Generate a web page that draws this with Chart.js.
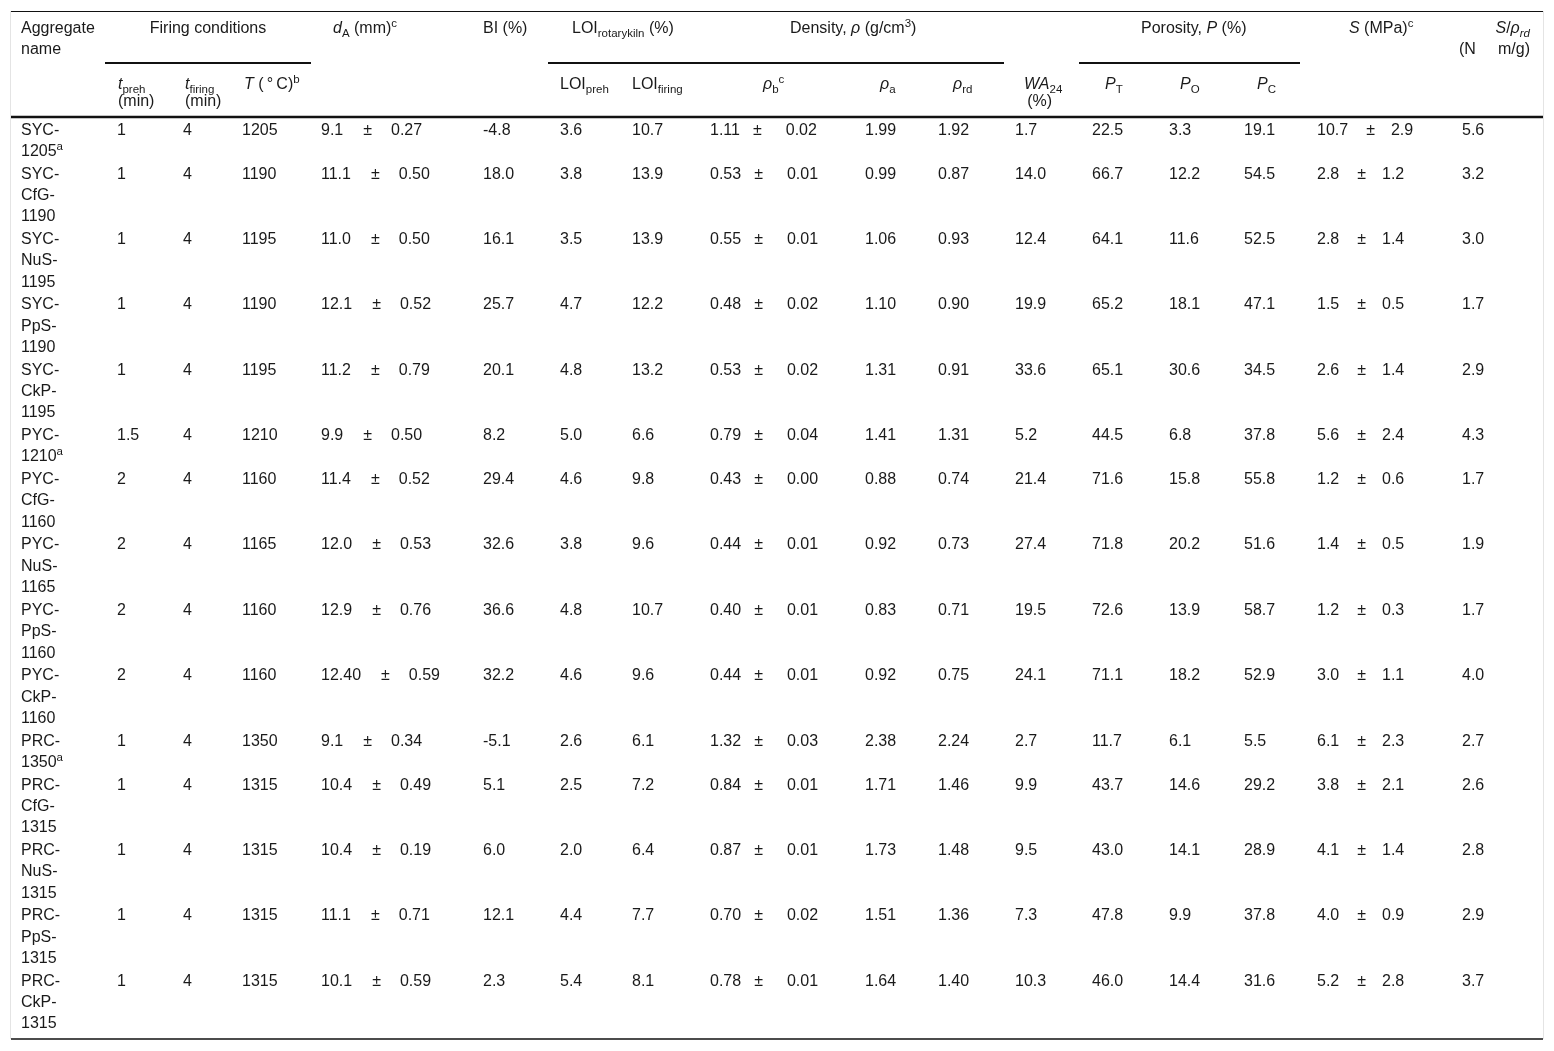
<!DOCTYPE html>
<html>
<head>
<meta charset="utf-8">
<script src="https://cdn.jsdelivr.net/npm/chart.js@4/dist/chart.umd.min.js"></script>
<style>
  html, body { margin: 0; padding: 0; background: #fff; }
  canvas { display: block; }
</style>
</head>
<body>
<canvas id="myChart" width="1554" height="1051"></canvas>
<script>
// table values
const names = ["SYC-1205","SYC-CfG-1190","SYC-NuS-1195","SYC-PpS-1190","SYC-CkP-1195",
  "PYC-1210","PYC-CfG-1160","PYC-NuS-1165","PYC-PpS-1160","PYC-CkP-1160",
  "PRC-1350","PRC-CfG-1315","PRC-NuS-1315","PRC-PpS-1315","PRC-CkP-1315"]
const nameNotes = ["a","","","","","a","","","","","a","","","",""]
const tPreh = ["1","1","1","1","1","1.5","2","2","2","2","1","1","1","1","1"]
const tFiring = ["4","4","4","4","4","4","4","4","4","4","4","4","4","4","4"]
const temp = ["1205","1190","1195","1190","1195","1210","1160","1165","1160","1160","1350","1315","1315","1315","1315"]
const dA = ["9.1","11.1","11.0","12.1","11.2","9.9","11.4","12.0","12.9","12.40","9.1","10.4","10.4","11.1","10.1"]
const dASd = ["0.27","0.50","0.50","0.52","0.79","0.50","0.52","0.53","0.76","0.59","0.34","0.49","0.19","0.71","0.59"]
const bi = ["-4.8","18.0","16.1","25.7","20.1","8.2","29.4","32.6","36.6","32.2","-5.1","5.1","6.0","12.1","2.3"]
const loiPreh = ["3.6","3.8","3.5","4.7","4.8","5.0","4.6","3.8","4.8","4.6","2.6","2.5","2.0","4.4","5.4"]
const loiFiring = ["10.7","13.9","13.9","12.2","13.2","6.6","9.8","9.6","10.7","9.6","6.1","7.2","6.4","7.7","8.1"]
const rhoB = ["1.11","0.53","0.55","0.48","0.53","0.79","0.43","0.44","0.40","0.44","1.32","0.84","0.87","0.70","0.78"]
const rhoBSd = ["0.02","0.01","0.01","0.02","0.02","0.04","0.00","0.01","0.01","0.01","0.03","0.01","0.01","0.02","0.01"]
const rhoA = ["1.99","0.99","1.06","1.10","1.31","1.41","0.88","0.92","0.83","0.92","2.38","1.71","1.73","1.51","1.64"]
const rhoRd = ["1.92","0.87","0.93","0.90","0.91","1.31","0.74","0.73","0.71","0.75","2.24","1.46","1.48","1.36","1.40"]
const wa24 = ["1.7","14.0","12.4","19.9","33.6","5.2","21.4","27.4","19.5","24.1","2.7","9.9","9.5","7.3","10.3"]
const pT = ["22.5","66.7","64.1","65.2","65.1","44.5","71.6","71.8","72.6","71.1","11.7","43.7","43.0","47.8","46.0"]
const pO = ["3.3","12.2","11.6","18.1","30.6","6.8","15.8","20.2","13.9","18.2","6.1","14.6","14.1","9.9","14.4"]
const pC = ["19.1","54.5","52.5","47.1","34.5","37.8","55.8","51.6","58.7","52.9","5.5","29.2","28.9","37.8","31.6"]
const strength = ["10.7","2.8","2.8","1.5","2.6","5.6","1.2","1.4","1.2","3.0","6.1","3.8","4.1","4.0","5.2"]
const strengthSd = ["2.9","1.2","1.4","0.5","1.4","2.4","0.6","0.5","0.3","1.1","2.3","2.1","1.4","0.9","2.8"]
const specStrength = ["5.6","3.2","3.0","1.7","2.9","4.3","1.7","1.9","1.7","4.0","2.7","2.6","2.8","2.9","3.7"]

// header texts: * = italic, _{} = subscript, ^{} = superscript, | = new line
const groupHeaders = ["Aggregate|name", "Firing conditions", "*d*_{A} (mm)^{c}", "BI (%)",
  "LOI_{rotarykiln} (%)", "Density, *ρ* (g/cm^{3})", "Porosity, *P* (%)", "*S* (MPa)^{c}", "*S*/*ρ*_{*rd*}|(N     m/g)"]
const subHeaders = ["*t*_{preh}|(min)", "*t*_{firing}|(min)", "*T* (\u2009°\u2009C)^{b}", "LOI_{preh}", "LOI_{firing}",
  "*ρ*_{b}^{c}", "*ρ*_{a}", "*ρ*_{rd}", "*WA*_{24}|\u2009(%)", "*P*_{T}", "*P*_{O}", "*P*_{C}"]

// layout
const FONT = '"Liberation Sans", Arial, sans-serif'
const SIZE = 16
const SMALL = 11.5
const LINE = 21.35
const colLayout = [
  { x: 117, vals: tPreh }, { x: 183, vals: tFiring }, { x: 242, vals: temp },
  { x: 321, vals: dA, sd: dASd, gap: [20, 19] }, { x: 483, vals: bi },
  { x: 560, vals: loiPreh }, { x: 632, vals: loiFiring },
  { x: 710, vals: rhoB, sd: rhoBSd, gap: [13, 24] }, { x: 865, vals: rhoA }, { x: 938, vals: rhoRd },
  { x: 1015, vals: wa24 }, { x: 1092, vals: pT }, { x: 1169, vals: pO }, { x: 1244, vals: pC },
  { x: 1317, vals: strength, sd: strengthSd, gap: [18, 16] }, { x: 1462, vals: specStrength }
]
const groupPos = [[21, 'left'], [208, 'center'], [333, 'left'], [483, 'left'], [572, 'left'],
  [790, 'left'], [1141, 'left'], [1349, 'left'], [1530, 'right']]
const subPos = [118, 185, 244, 560, 632, 763, 880, 953, 1024, 1105, 1180, 1257]

function parseRich(str) {
  let segs = []
  let italic = false
  let buf = ''
  let i = 0
  const flush = () => { if (buf) segs.push({ t: buf, it: italic, m: 'n' }); buf = '' }
  while (i < str.length) {
    const c = str[i]
    if (c === '*') { flush(); italic = !italic; i++; continue }
    if ((c === '_' || c === '^') && str[i + 1] === '{') {
      flush()
      const end = str.indexOf('}', i)
      let inner = str.slice(i + 2, end)
      let it = italic
      if (inner.startsWith('*')) { it = true; inner = inner.replace(/\*/g, '') }
      segs.push({ t: inner, it: it, m: c === '_' ? 'sub' : 'sup' })
      i = end + 1
      continue
    }
    buf += c
    i++
  }
  flush()
  return segs
}

function fontFor(s) {
  return (s.it ? 'italic ' : '') + (s.m === 'n' ? SIZE : SMALL) + 'px ' + FONT
}

function drawRich(ctx, str, x, y, align) {
  const segs = parseRich(str)
  let w = 0
  segs.forEach(s => { ctx.font = fontFor(s); s.w = ctx.measureText(s.t).width; w += s.w })
  let cx = align === 'center' ? x - w / 2 : align === 'right' ? x - w : x
  const base = y + SIZE * 0.358
  segs.forEach(s => {
    ctx.font = fontFor(s)
    const dy = s.m === 'sub' ? 4.5 : s.m === 'sup' ? -6 : 0
    ctx.fillText(s.t, cx, base + dy)
    cx += s.w
  })
  return w
}

const tablePlugin = {
  id: 'tableDraw',
  afterDraw(chart) {
    const ctx = chart.ctx
    const sx = chart.scales.x
    const sy = chart.scales.y
    const X = v => sx.getPixelForValue(v)
    const Y = v => sy.getPixelForValue(v)
    ctx.save()
    ctx.fillStyle = '#1a1a1a'
    ctx.textBaseline = 'alphabetic'
    ctx.textAlign = 'left'

    // rules
    const hline = (x1, x2, y, w, col) => {
      ctx.beginPath(); ctx.strokeStyle = col || '#111'; ctx.lineWidth = w
      ctx.moveTo(X(x1), Y(y)); ctx.lineTo(X(x2), Y(y)); ctx.stroke()
    }
    ctx.beginPath(); ctx.strokeStyle = '#e4e4e4'; ctx.lineWidth = 1
    ctx.moveTo(X(10.5), Y(11)); ctx.lineTo(X(10.5), Y(1039))
    ctx.moveTo(X(1543.5), Y(11)); ctx.lineTo(X(1543.5), Y(1039)); ctx.stroke()
    hline(11, 1543, 11.5, 1.2)
    hline(105, 311, 63, 2)
    hline(548, 1004, 63, 2)
    hline(1079, 1300, 63, 2)
    hline(11, 1543, 117, 2.6)
    hline(11, 1543, 1039, 1.6)

    // headers
    groupHeaders.forEach((h, k) => {
      h.split('|').forEach((part, j) => drawRich(ctx, part, X(groupPos[k][0]), Y(27 + j * 21), groupPos[k][1]))
    })
    subHeaders.forEach((h, k) => {
      h.split('|').forEach((part, j) => drawRich(ctx, part, X(subPos[k]), Y(83 + j * 17), 'left'))
    })

    // body rows
    let y = 129
    names.forEach((name, i) => {
      const parts = name.match(/[^-]+-?/g)
      parts.forEach((p, j) => {
        const txt = p + (j === parts.length - 1 && nameNotes[i] ? '^{' + nameNotes[i] + '}' : '')
        drawRich(ctx, txt, X(21), Y(y + j * LINE), 'left')
      })
      colLayout.forEach(col => {
        const w = drawRich(ctx, col.vals[i], X(col.x), Y(y), 'left')
        if (col.sd) {
          const px = X(col.x) + w + col.gap[0]
          const pw = drawRich(ctx, '±', px, Y(y), 'left')
          drawRich(ctx, col.sd[i], px + pw + col.gap[1], Y(y), 'left')
        }
      })
      y += parts.length * LINE + 1.3
    })
    ctx.restore()
  }
}

const ctx = document.getElementById('myChart')
new Chart(ctx, {
  type: 'scatter',
  data: { datasets: [{ data: [], pointRadius: 0 }] },
  options: {
    responsive: false,
    animation: false,
    events: [],
    layout: { padding: 0 },
    plugins: { legend: { display: false }, tooltip: { enabled: false } },
    scales: {
      x: { type: 'linear', display: false, min: 0, max: 1554 },
      y: { type: 'linear', display: false, min: 0, max: 1051, reverse: true }
    }
  },
  plugins: [tablePlugin]
})
</script>
</body>
</html>
